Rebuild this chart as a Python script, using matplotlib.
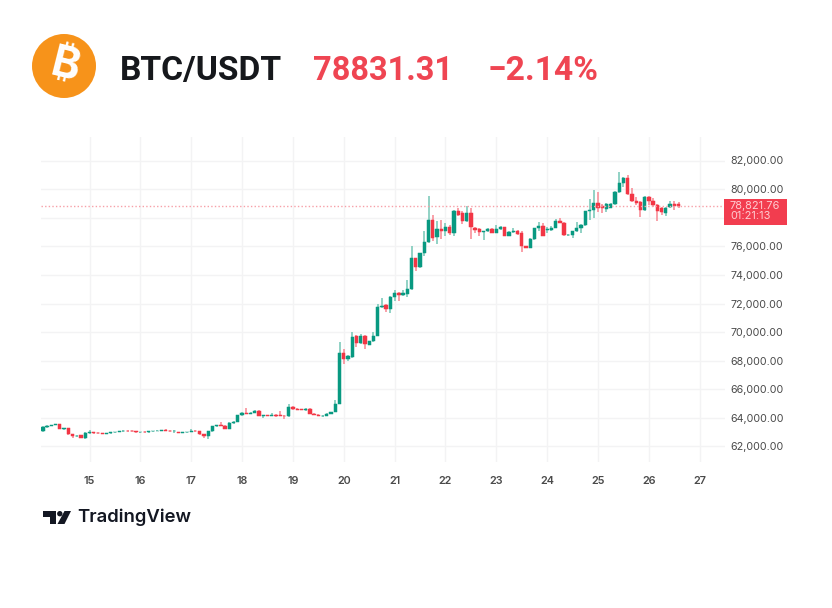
import numpy as np
import matplotlib
matplotlib.use("Agg")
import matplotlib.pyplot as plt
from matplotlib.patches import Circle, Polygon, Rectangle

W, H = 832, 608
FIRST_DAY = 14 + 1 / 12
STEP = 1 / 12

symbol = "BTC/USDT"
price_text = "78831.31"
change_text = "-2.14%".replace("-", "\u2212")
last_price = 78821.76
countdown = "01:21:13"
day_ticks = [15, 16, 17, 18, 19, 20, 21, 22, 23, 24, 25, 26, 27]
price_ticks = [62000, 64000, 66000, 68000, 70000, 72000, 74000, 76000, 78000, 80000, 82000]
hidden_price_tick = 78000  # covered by the last-price label in the reference

opens = [
 63080,63350,63450,63500,63550,63230,63270,62850,62720,62780,62580,62950,
 63000,62950,62930,62880,62950,62990,63030,63070,63090,63080,63060,62990,
 63020,63000,63050,63100,63110,63140,63110,63060,62980,62960,62990,63020,
 63100,63050,62850,62750,63050,63400,63520,63450,63250,63650,63720,64200,
 64350,64300,64350,64500,64130,64170,64150,64230,64230,64150,64130,64780,
 64620,64600,64520,64650,64280,64220,64120,64150,64300,64420,65000,68550,
 68150,68250,69700,69250,69700,69130,69350,69750,71750,71900,71650,72450,
 72700,72600,72650,73000,75150,74550,75500,76300,77850,76650,77200,77100,
 77350,76950,78450,78350,77750,78350,77300,77200,77000,77100,77200,76950,
 77200,77350,76750,77000,77100,76900,76000,75900,76500,77250,77400,77150,
 77150,77300,77800,77650,76800,76800,77100,77250,77500,78450,78550,79050,
 78800,78600,78700,78950,79800,80450,80800,79650,79150,79100,78550,79450,
 79200,78900,78700,78350,78750,78950,78950,
]
highs = [
 63400,63480,63530,63600,63580,63320,63300,62900,62830,62820,63000,63180,
 63040,63000,62970,62960,63000,63040,63090,63120,63140,63120,63110,63040,
 63060,63050,63110,63150,63170,63190,63150,63140,63010,63000,63040,63250,
 63130,63080,62880,63080,63420,63520,63700,63480,63680,63800,64230,64400,
 64680,64400,64540,64530,64200,64230,64350,64280,64450,64190,64980,64830,
 64680,64640,64700,64680,64310,64250,64200,64330,64430,65250,69300,68800,
 68420,70000,69800,69850,69800,69400,70000,71950,72350,71950,72500,72950,
 72800,72950,73650,76000,75200,75550,77100,79500,78200,77750,77850,77650,
 77500,78550,78700,78500,78800,78700,77350,77250,77100,77250,77250,77500,
 77400,77380,77050,77300,77150,77100,76050,76550,77300,77700,77600,77350,
 77450,77900,78000,77700,76850,77100,77700,77550,78500,79300,79950,79800,
 78950,79000,79000,79850,81200,80850,81000,80050,79450,79200,79500,79500,
 79400,78950,78750,78750,79150,79150,79100,
]
lows = [
 63000,63320,63420,63470,63200,63180,62830,62600,62680,62560,62500,62900,
 62900,62890,62840,62840,62900,62950,62990,63020,63040,63030,62960,62950,
 62970,62960,63010,63060,63070,63080,63020,62950,62920,62930,62950,62980,
 63020,62830,62600,62550,63020,63380,63400,63220,63220,63600,63680,64150,
 64250,64270,64320,64100,63980,64100,64100,64050,64100,63950,64050,64580,
 64530,64520,64480,64260,64180,64100,64080,64120,64270,64380,64950,67800,
 68000,68200,68950,69200,68850,69080,69300,69700,71700,71400,71350,72200,
 72150,72550,72450,72950,74300,74500,75300,76250,76350,76150,76500,76750,
 76800,76750,78150,77550,77700,76500,76950,76750,76450,77000,76900,76900,
 77150,76700,76700,76950,76800,75600,75850,75850,76450,77100,76700,76950,
 77050,77250,77600,76750,76750,76600,77000,76950,77450,77850,78000,78400,
 78350,78400,78650,78900,79700,80150,79600,79100,78900,78050,78500,78900,
 78750,77800,78200,78100,78700,78550,78650,
]
closes = [
 63350,63450,63500,63550,63220,63270,62850,62720,62760,62600,62950,63000,
 62950,62930,62880,62950,62990,63030,63070,63090,63080,63060,62990,63020,
 63000,63050,63100,63110,63140,63110,63060,63100,62960,62990,63020,63100,
 63050,62850,62750,63050,63400,63480,63430,63250,63650,63720,64200,64350,
 64300,64350,64500,64130,64170,64150,64230,64150,64120,64100,64780,64620,
 64560,64550,64650,64280,64220,64120,64160,64300,64400,65000,68550,68150,
 68350,69650,69250,69700,69200,69350,69750,71750,71800,71650,72450,72750,
 72600,72750,73000,75150,74550,75500,76300,77850,76600,77200,77100,77350,
 76950,78450,78200,77750,78350,77350,77150,77000,77050,77200,76950,77200,
 77350,76750,77000,77100,76850,76000,75900,76500,77250,77400,76750,77200,
 77300,77800,77650,76800,76820,77050,77250,77500,78450,78550,79050,78650,
 78700,78950,78950,79800,80450,80800,79650,79150,79050,78550,79450,79200,
 78900,78500,78400,78700,78950,78800,78820,
]

UP = "#089981"
DOWN = "#F23645"
UP_WICK = "#7FCBBB"
DOWN_WICK = "#F8909A"
GRID = "#F3F3F4"
TICK = "#4A4A4A"
RED_TEXT = "#EF4552"

fig = plt.figure(figsize=(W / 100, H / 100), dpi=100, facecolor="white")


def rect(l, t, r, b):
    return [l / W, 1 - b / H, (r - l) / W, (b - t) / H]


ax = fig.add_axes(rect(41, 137, 725, 462))
ax.set_xlim(14.046, 27.497)
per_px = 2000 / 28.6
ax.set_ylim(62000 - (462 - 446.5) * per_px, 82000 + (160.5 - 137) * per_px)
for s in ax.spines.values():
    s.set_visible(False)
ax.set_axisbelow(True)
ax.grid(True, color=GRID, linewidth=1.0)
ax.set_xticks(day_ticks)
ax.set_xticklabels([str(d) for d in day_ticks], fontfamily="Inter", fontweight="semibold",
                   fontsize=7.8, color=TICK)
ax.tick_params(axis="x", length=0, pad=10)
ax.yaxis.tick_right()
ax.set_yticks(price_ticks)
ax.set_yticklabels(["" if p == hidden_price_tick else f"{p:,.2f}" for p in price_ticks],
                   fontfamily="Inter", fontsize=7.7, color=TICK)
ax.tick_params(axis="y", length=0, pad=4.2)

o, h, l, c = map(np.array, (opens, highs, lows, closes))
x = FIRST_DAY + STEP * np.arange(len(o))
up = c >= o
ax.vlines(x[up], l[up], h[up], color=UP_WICK, linewidth=1.2, zorder=2)
ax.vlines(x[~up], l[~up], h[~up], color=DOWN_WICK, linewidth=1.2, zorder=2)
body_w = 3.3 / 50.85
bottom = np.minimum(o, c)
height = np.abs(c - o)
ax.bar(x, height, bottom=bottom, width=body_w, color=np.where(up, UP, DOWN),
       edgecolor=np.where(up, UP, DOWN), linewidth=0.35, zorder=3)
ax.axhline(last_price, color="#F7A0A8", linewidth=1.0, linestyle=(0, (1, 1.6)), zorder=4)

# Pixel-space overlay for header, logo and the price label
ov = fig.add_axes([0, 0, 1, 1], facecolor="none")
ov.set_xlim(0, W)
ov.set_ylim(H, 0)
ov.axis("off")

ov.add_patch(Circle((64, 66), 32, color="#F7931A", lw=0))
ov.text(65, 66, "\u20bf", color="white", fontsize=31, fontweight="bold",
        family=["Inter", "Noto Sans", "Roboto", "Open Sans", "Lato", "DejaVu Sans"],
        rotation=-14, ha="center", va="center", rotation_mode="anchor")

head = dict(fontfamily="Roboto", fontweight="bold", va="center_baseline")
ov.text(120, 67, symbol, color="#16181C", ha="left", fontsize=24.2, **head)
ov.text(312.5, 67, price_text, color=RED_TEXT, ha="left", fontsize=23.5, **head)
ov.text(488, 67, change_text, color=RED_TEXT, ha="left", fontsize=24.2, **head)

ov.add_patch(Rectangle((724, 199), 62.5, 25.5, color="#F23D4F", lw=0))
ov.text(730, 211, f"{last_price:,.2f}\n{countdown}", color="#FFCDD2", fontfamily="Inter", fontsize=7.9,
        ha="left", va="center", linespacing=1.1)

LOGO = "#131722"
ov.add_patch(Polygon([(43, 511), (55.5, 511), (55.5, 524), (49.5, 524), (49.5, 516.5), (43, 516.5)],
                     closed=True, color=LOGO, lw=0))
ov.add_patch(Circle((59.8, 513.7), 2.7, color=LOGO, lw=0))
ov.add_patch(Polygon([(64.5, 511), (71, 511), (64.5, 524), (57.5, 524)], closed=True, color=LOGO, lw=0))
ov.text(77, 517.5, "TradingView", color=LOGO, fontfamily="Inter", fontweight="semibold", fontsize=13.3,
        ha="left", va="center")

fig.savefig("out.png", dpi=100, facecolor="white")
